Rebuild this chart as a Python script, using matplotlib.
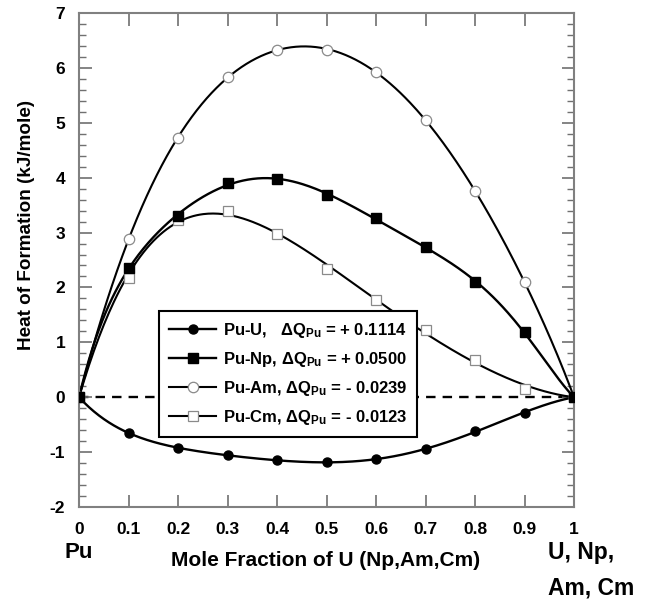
"""
Heat of formation of Pu binary alloys vs mole fraction
"""
import matplotlib
matplotlib.use("Agg")
import matplotlib.pyplot as plt
from matplotlib.lines import Line2D
from matplotlib.ticker import MultipleLocator
import numpy as np

plt.rcParams['font.family'] = ['Liberation Sans', 'DejaVu Sans']
plt.rcParams['font.weight'] = 'bold'
plt.rcParams['axes.unicode_minus'] = False
plt.rcParams['mathtext.fontset'] = 'custom'
plt.rcParams['mathtext.rm'] = 'Liberation Sans:bold'
plt.rcParams['mathtext.it'] = 'Liberation Sans:bold'
plt.rcParams['mathtext.bf'] = 'Liberation Sans:bold'
plt.rcParams['mathtext.default'] = 'rm'

x = [0, 0.1, 0.2, 0.3, 0.4, 0.5, 0.6, 0.7, 0.8, 0.9, 1.0]
pu_u = [0, -0.65, -0.92, -1.06, -1.15, -1.18, -1.13, -0.95, -0.62, -0.28, 0]
pu_np = [0, 2.35, 3.30, 3.90, 3.98, 3.68, 3.26, 2.74, 2.10, 1.18, 0]
pu_am = [0, 2.88, 4.72, 5.84, 6.32, 6.33, 5.93, 5.05, 3.75, 2.10, 0]
pu_cm = [0, 2.17, 3.22, 3.40, 2.97, 2.33, 1.78, 1.22, 0.67, 0.15, 0]

labels = [r"Pu-U,   $\Delta$Q$_{Pu}$ = + 0.1114",
          r"Pu-Np, $\Delta$Q$_{Pu}$ = + 0.0500",
          r"Pu-Am, $\Delta$Q$_{Pu}$ = - 0.0239",
          r"Pu-Cm, $\Delta$Q$_{Pu}$ = - 0.0123"]


def smooth_fit(xs, ys, xf, nterms):
    # least squares fit of x(1-x)*(a + b x + c x^2 + ...)
    xs = np.asarray(xs)
    ys = np.asarray(ys)
    basis = lambda t: np.column_stack([t * (1 - t) * t ** k for k in range(nterms)])
    coef, *_ = np.linalg.lstsq(basis(xs), ys, rcond=None)
    return basis(xf) @ coef


fig = plt.figure(figsize=(6.51, 6.01), dpi=100)
ax = fig.add_axes([0.1214, 0.1564, 0.7604, 0.822])

xf = np.linspace(0, 1, 300)
styles = [
    dict(color='black', lw=1.7, marker='o', ms=6.5, mfc='black', mec='black'),
    dict(color='black', lw=1.7, marker='s', ms=7.5, mfc='black', mec='black'),
    dict(color='black', lw=1.5, marker='o', ms=7.5, mfc='white', mec='#8a8a8a', mew=0.9),
    dict(color='black', lw=1.5, marker='s', ms=7.5, mfc='white', mec='#8a8a8a', mew=0.9),
]
series = [pu_u, pu_np, pu_am, pu_cm]
nterms = [5, 6, 6, 4]

ax.axhline(0, color='black', lw=1.7, ls=(0, (4, 3)), zorder=1)

for ys, st, n in reversed(list(zip(series, styles, nterms))):
    ax.plot(xf, smooth_fit(x, ys, xf, n), color=st['color'], lw=st['lw'], zorder=2)
    ax.plot(x, ys, ls='none', marker=st['marker'], ms=st['ms'], mfc=st['mfc'],
            mec=st['mec'], mew=st.get('mew', 1.0), zorder=3)
handles = [Line2D([], [], label=lab, **st) for st, lab in zip(styles, labels)]

ax.set_xlim(0, 1)
ax.set_ylim(-2, 7)
ax.yaxis.set_major_locator(MultipleLocator(1))
ax.yaxis.set_minor_locator(MultipleLocator(0.2))
ax.set_xticks(x)
ax.set_xticklabels(['0', '0.1', '0.2', '0.3', '0.4', '0.5', '0.6', '0.7',
                    '0.8', '0.9', '1'])
ax.tick_params(which='both', direction='in', top=True, right=True,
               color='#707070', labelsize=12.5)
ax.tick_params(which='major', length=9, width=1.2)
ax.tick_params(which='minor', length=5, width=1.0)
ax.tick_params(axis='x', pad=11)
ax.tick_params(axis='y', pad=10)
for sp in ax.spines.values():
    sp.set_color('#808080')
    sp.set_linewidth(1.5)

fig.text(27 / 651, 1 - 225 / 601, "Heat of Formation (kJ/mole)", fontsize=13.6,
         fontweight='bold', rotation=90, ha='center', va='center')
fig.text(326 / 651, 1 - 560 / 601, "Mole Fraction of U (Np,Am,Cm)", fontsize=15,
         fontweight='bold', ha='center', va='center')
fig.text(79 / 651, 1 - 553 / 601, "Pu", fontsize=16, fontweight='bold',
         ha='center', va='center')
fig.text(548 / 651, 1 - 552 / 601, "U, Np,", fontsize=16.5, fontweight='bold',
         ha='left', va='center')
fig.text(548 / 651, 1 - 588 / 601, "Am, Cm", fontsize=16.5, fontweight='bold',
         ha='left', va='center')

leg = ax.legend(handles=handles, loc='lower left', bbox_to_anchor=(0.162, 0.142),
                fontsize=12, frameon=True, fancybox=False, handlelength=2.8,
                labelspacing=0.6, borderpad=0.6, handletextpad=0.4,
                borderaxespad=0)
leg.get_frame().set_edgecolor('black')
leg.get_frame().set_linewidth(1.5)
leg.get_frame().set_alpha(1)

fig.savefig("out.png", dpi=100)
